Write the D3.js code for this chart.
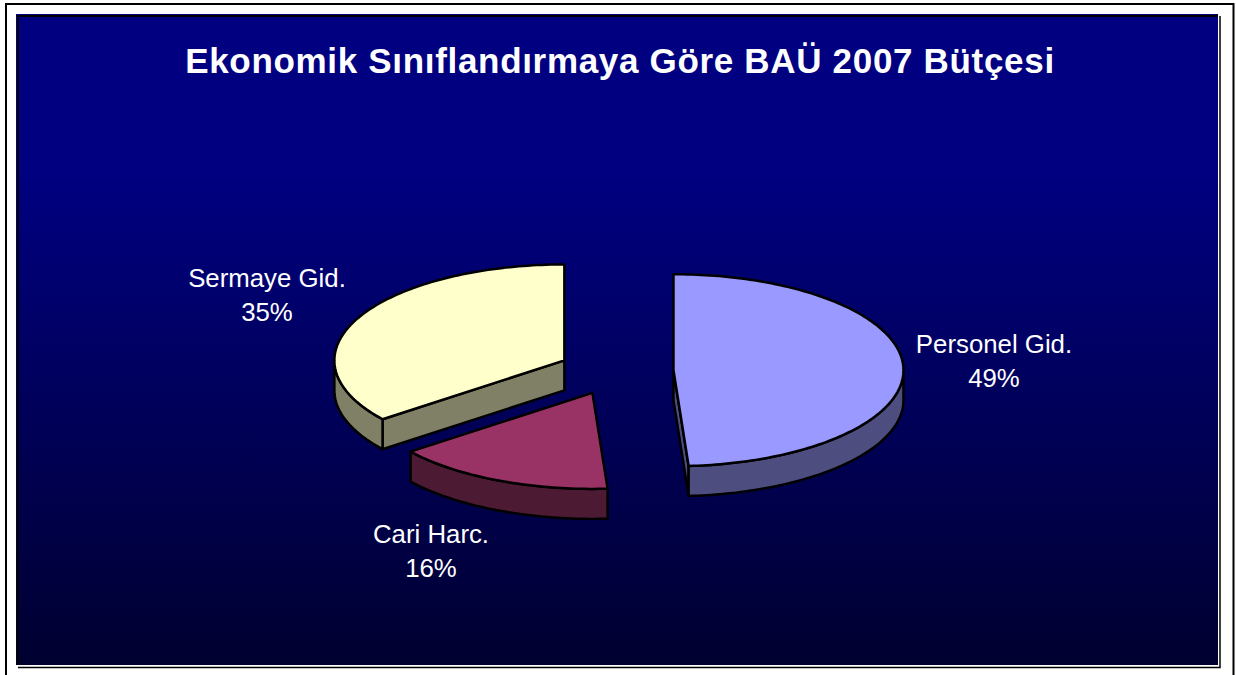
<!DOCTYPE html>
<html><head><meta charset="utf-8">
<script src="https://d3js.org/d3.v7.min.js"></script>
<style>html,body{margin:0;padding:0;background:#fff}svg{display:block}text{font-family:"Liberation Sans",Arial,sans-serif}</style>
</head><body><svg id="c" width="1236" height="675"></svg>
<script>
const title = "Ekonomik Sınıflandırmaya Göre BAÜ 2007 Bütçesi";
const categories = ["Personel Gid.", "Cari Harc.", "Sermaye Gid."];
const values = [48.95, 15.56, 35.49];
const topColors = ["#9999ff", "#993366", "#ffffcc"];
const sideColors = ["#4d4d80", "#4d1a33", "#808066"];

const W = 1236, H = 675;
const cx = 616, cy = 371, rx = 230, ry = 96, depth = 30, explode = 0.25;
const svg = d3.select("#c");
const defs = svg.append("defs");
const grad = defs.append("linearGradient").attr("id","bg").attr("x1",0).attr("y1",0).attr("x2",0).attr("y2",1);
grad.append("stop").attr("offset","0").attr("stop-color","#000080");
grad.append("stop").attr("offset","0.25").attr("stop-color","#000080");
grad.append("stop").attr("offset","1").attr("stop-color","#000030");

// frame
svg.append("path").attr("d","M6,675V4H1233.5V675").attr("fill","none").attr("stroke","#000").attr("stroke-width",2);
svg.append("rect").attr("x",16).attr("y",14).attr("width",1202).attr("height",651).attr("fill","url(#bg)");
svg.append("path").attr("d","M18,665V16H1218").attr("fill","none").attr("stroke","#000").attr("stroke-width",2);
svg.append("path").attr("d","M18,667.5H1220V16").attr("fill","none").attr("stroke","#000").attr("stroke-width",1.5);

svg.append("text").attr("x",620).attr("y",73).attr("text-anchor","middle")
  .attr("font-size",35).attr("font-weight","bold").attr("letter-spacing",0.68).attr("fill","#fff").text(title);

const pie = d3.pie().sort(null).startAngle(0).endAngle(2*Math.PI);
const arcs = pie(values);
const px = d3.scaleLinear().domain([0,1]).range([0,rx]);
const py = d3.scaleLinear().domain([0,1]).range([0,ry]);
const line = d3.line().x(d=>d[0]).y(d=>d[1]);
const round = (a,b)=>{const n=Math.max(2,Math.ceil(Math.abs(b-a)/0.02));return d3.range(n+1).map(i=>a+(b-a)*i/n);};
const rim = (c,a,b,dy=0)=>round(a,b).map(t=>[c[0]+px(Math.sin(t)),c[1]+dy-py(Math.cos(t))]);

const slices = arcs.map((a,i)=>{
  const m=(a.startAngle+a.endAngle)/2;
  return {i,a,c:[cx+px(explode*Math.sin(m)),cy-py(explode*Math.cos(m))]};
});
const stroke={stroke:"#000","stroke-width":2.5,"stroke-linejoin":"round"};
const draw=(pts,fill)=>{const p=svg.append("path").attr("d",line(pts)+"Z").attr("fill",fill);Object.entries(stroke).forEach(([k,v])=>p.attr(k,v));};

slices.forEach(s=>{
  const {i,a,c}=s, A=a.startAngle, B=a.endAngle;
  const lo=Math.max(A,Math.PI/2), hi=Math.min(B,3*Math.PI/2);
  // cut face at the end of the slice facing the viewer
  if(i===2){
    const e=rim(c,A,A)[0];
    draw([c,e,[e[0],e[1]+depth],[c[0],c[1]+depth]],sideColors[i]);
  }
  if(i===0){
    const e=rim(c,B,B)[0];
    draw([c,e,[e[0],e[1]+depth],[c[0],c[1]+depth]],sideColors[i]);
  }
  if(hi>lo){
    draw(rim(c,lo,hi).concat(rim(c,hi,lo,depth)),sideColors[i]);
  }
  draw([c].concat(rim(c,A,B)),topColors[i]);
});

const labelX=[994,431,267], labelY=[353,543,287];
const pct=d3.format(".0f");
const g=svg.append("g").attr("fill","#fff").attr("font-size",25.8).attr("text-anchor","middle");
categories.forEach((n,i)=>{
  g.append("text").attr("x",labelX[i]).attr("y",labelY[i]).text(n);
  g.append("text").attr("x",labelX[i]).attr("y",labelY[i]+33.5).text(pct(values[i])+"%");
});
</script></body></html>
